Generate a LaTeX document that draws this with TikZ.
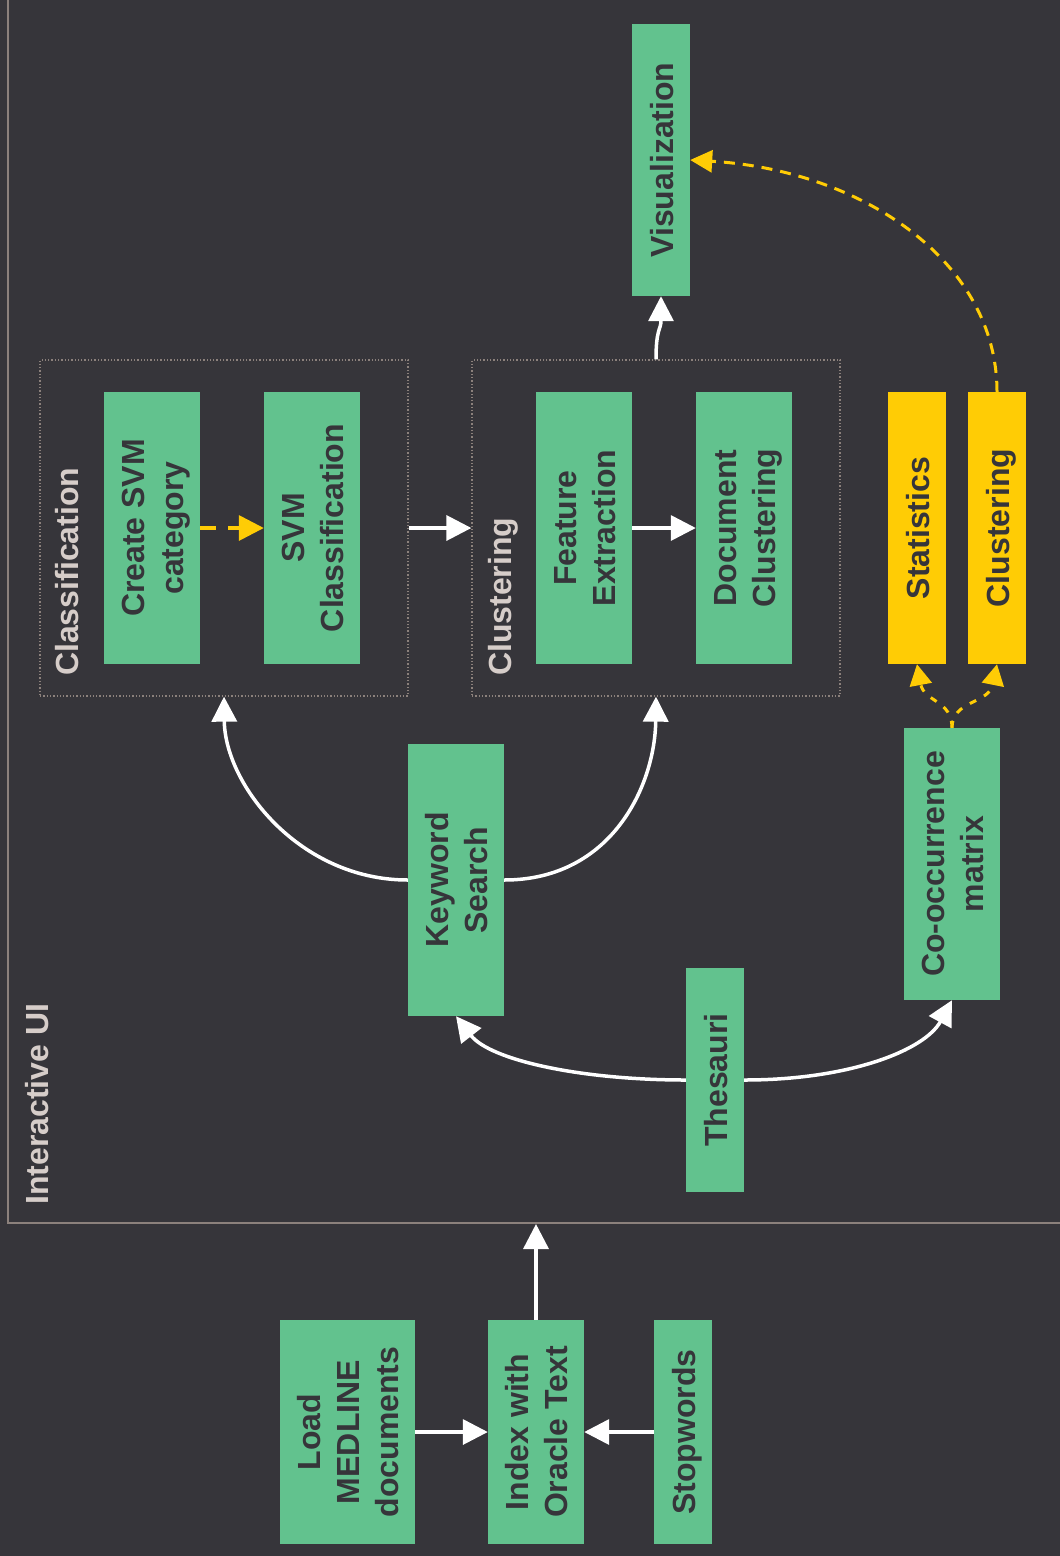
\documentclass[tikz,border=0pt]{standalone}
\usepackage{fontspec}
\setmainfont{Liberation Sans}
\usepackage{graphicx}
\usetikzlibrary{arrows.meta}
\definecolor{bgc}{HTML}{36353A}
\definecolor{grn}{HTML}{62C28E}
\definecolor{ylw}{HTML}{FFCC05}
\definecolor{frm}{HTML}{8C817C}
\definecolor{lbl}{HTML}{D6CDC9}
\newcommand{\vtext}[1]{\hspace*{9pt}\rotatebox{90}{\begin{tabular}{@{}c@{}}#1\end{tabular}}}
\begin{document}
\begin{tikzpicture}[x=1pt,y=-1pt,
  box/.style={rectangle, inner sep=0pt, text=bgc, font=\fontsize{32}{39}\selectfont\bfseries},
  gbox/.style={box, fill=grn},
  ybox/.style={box, fill=ylw},
  grp/.style={draw=frm, dotted, line width=1.3pt, inner sep=0pt, minimum width=368pt, minimum height=336pt},
  lab/.style={text=lbl, font=\fontsize{32}{39}\selectfont\bfseries, inner sep=0pt, anchor=south west},
  warr/.style={draw=white, line width=3.5pt, -{Triangle[length=25pt,width=25pt]}},
  yarr/.style={draw=ylw, line width=3.5pt, dash pattern=on 16pt off 12pt, -{Triangle[length=25pt,width=25pt]}},
  ycurve/.style={draw=ylw, line width=3pt, dash pattern=on 11pt off 8pt, -{Triangle[length=22pt,width=22pt]}},
  ysmall/.style={draw=ylw, line width=3pt, dash pattern=on 7pt off 9pt, -{Triangle[length=21pt,width=22pt]}},
]
\fill[bgc] (0,0) rectangle (1060,1556);
\useasboundingbox (0,0) rectangle (1060,1556);

% Interactive UI frame (top and right run off the picture)
\node[draw=frm, line width=2pt, inner sep=0pt, minimum width=1062pt, minimum height=1233pt] (ui) at (539,606.5) {};
\node[lab] (uilab) at (25,1205) {\rotatebox{90}{Interactive UI}};

% groups
\node[grp] (cls) at (224,528) {};
\node[grp] (clu) at (656,528) {};
\node[lab] (clslab) at (55,676) {\rotatebox{90}{Classification}};
\node[lab] (clulab) at (488,676) {\rotatebox{90}{Clustering}};

% boxes
\node[gbox, minimum width=58pt, minimum height=272pt] (vis) at (661,160) {\vtext{Visualization}};
\node[gbox, minimum width=96pt, minimum height=272pt] (svmcat) at (152,528) {\vtext{Create SVM\\category}};
\node[gbox, minimum width=96pt, minimum height=272pt] (svm) at (312,528) {\vtext{SVM\\Classification}};
\node[gbox, minimum width=96pt, minimum height=272pt] (fe) at (584,528) {\vtext{Feature\\Extraction}};
\node[gbox, minimum width=96pt, minimum height=272pt] (dc) at (744,528) {\vtext{Document\\Clustering}};
\node[ybox, minimum width=58pt, minimum height=272pt] (stat) at (917,528) {\vtext{Statistics}};
\node[ybox, minimum width=58pt, minimum height=272pt] (ycl) at (997,528) {\vtext{Clustering}};
\node[gbox, minimum width=96pt, minimum height=272pt] (kw) at (456,880) {\vtext{Keyword\\Search}};
\node[gbox, minimum width=58pt, minimum height=224pt] (thes) at (715,1080) {\vtext{Thesauri}};
\node[gbox, minimum width=96pt, minimum height=272pt] (cooc) at (952,864) {\vtext{Co-occurrence\\matrix}};
\node[gbox, minimum width=135pt, minimum height=224pt] (load) at (347.5,1432) {\vtext{Load\\MEDLINE\\documents}};
\node[gbox, minimum width=96pt, minimum height=224pt] (idx) at (536,1432) {\vtext{Index with\\Oracle Text}};
\node[gbox, minimum width=58pt, minimum height=224pt] (stop) at (683,1432) {\vtext{Stopwords}};

% connectors
\draw[warr] (load.east) -- (idx.west);
\draw[warr] (stop.west) -- (idx.east);
\draw[warr] (idx.north) -- (idx.north |- ui.south);
\draw[warr] (thes.west) .. controls (580,1080) and (490,1060) .. (kw.south);
\draw[warr] (thes.east) .. controls (850,1080) and (925,1050) .. (cooc.south);
\draw[warr] (kw.west) .. controls (300,880) and (225,785) .. (cls.south);
\draw[warr] (kw.east) .. controls (612,880) and (655,785) .. (clu.south);
\draw[warr] (cls.east) -- (clu.west);
\draw[warr] (fe.east) -- (dc.west);
\draw[warr] (clu.north) .. controls (656,328) and (661,330) .. (vis.south);
\draw[yarr] (svmcat.east) -- (svm.west);
\draw[ycurve] (ycl.north) .. controls (997,260) and (860,170) .. (vis.east);
\draw[ysmall] (cooc.north) .. controls (952,700) and (924,702) .. (stat.south);
\draw[ysmall] (cooc.north) .. controls (952,700) and (989,704) .. (ycl.south);
\end{tikzpicture}
\end{document}
